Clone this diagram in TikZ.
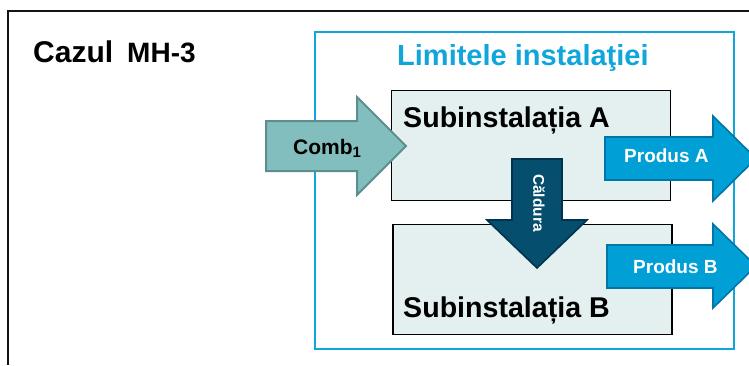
\documentclass[tikz,border=0pt]{standalone}
\usepackage{fontspec}
\setmainfont{Liberation Sans}
\definecolor{limblue}{RGB}{16,166,220}
\definecolor{subfill}{RGB}{228,240,240}
\definecolor{combfill}{RGB}{130,190,190}
\definecolor{combedge}{RGB}{92,142,142}
\definecolor{prodfill}{RGB}{0,160,214}
\definecolor{prodedge}{RGB}{0,118,166}
\definecolor{heatfill}{RGB}{5,78,110}
\definecolor{heatedge}{RGB}{0,52,78}
\newcommand{\fsz}[1]{\fontsize{#1}{#1}\selectfont\bfseries}
\begin{document}
\begin{tikzpicture}[x=1pt,y=-1pt,
  outerframe/.style={draw=black!92,line width=2pt},
  limitframe/.style={draw=limblue,line width=1.6pt},
  subbox/.style={draw=black,fill=subfill,line width=1.6pt,inner sep=0,
    minimum width=279pt,minimum height=110pt},
  txt/.style={inner sep=0,anchor=base west},
  combarrow/.style={fill=combfill,draw=combedge,line width=2pt,line join=miter},
  prodarrow/.style={fill=prodfill,draw=prodedge,line width=1.6pt,line join=miter},
  heatarrow/.style={fill=heatfill,draw=heatedge,line width=1.6pt,line join=miter}]
\useasboundingbox (0,0) rectangle (749,365);

% outer case frame (continues past the right and bottom edges)
\draw[outerframe] (749,11) -- (8,11) -- (8,365);
\node[txt] (case) at (33,62) {\fsz{30}Cazul\hspace{14pt}{\fsz{28}MH-3}};

% installation boundary
\draw[limitframe] (315,32) rectangle (734,349);
\node[txt,text=limblue] (limit) at (397,65) {\fsz{29}Limitele instalaţiei};

% sub-installations
\node[subbox] (subA) at (531,145.5) {};
\node[subbox] (subB) at (532.5,279.5) {};
\node[txt] (subAlbl) at (403,127) {\fsz{28.6}Subinstalația A};
\node[txt] (subBlbl) at (403,317) {\fsz{28.6}Subinstalația B};

% fuel input
\draw[combarrow] (266,121) -- (357,121) -- (357,97) -- (406,146)
  -- (357,195) -- (357,171) -- (266,171) -- cycle;
\node[txt] (comb) at (293,154) {\fsz{21}Comb\textsubscript{\fsz{15}1}};

% heat transfer from A to B
\draw[heatarrow] (512,159) -- (562,159) -- (562,220) -- (587,220)
  -- (537,268) -- (487,220) -- (512,220) -- cycle;
\node[inner sep=0,rotate=-90,text=white] (heat) at (539,203) {\fsz{15.5}Căldura};

% products
\draw[prodarrow] (605,137) -- (713,137) -- (713,116) -- (756,158.5)
  -- (713,201) -- (713,180) -- (605,180) -- cycle;
\node[txt,text=white] (prodA) at (624,162) {\fsz{19}Produs A};
\draw[prodarrow] (607,245) -- (713,245) -- (713,224) -- (756,266)
  -- (713,308) -- (713,288) -- (607,288) -- cycle;
\node[txt,text=white] (prodB) at (633,273) {\fsz{19}Produs B};
\end{tikzpicture}
\end{document}
